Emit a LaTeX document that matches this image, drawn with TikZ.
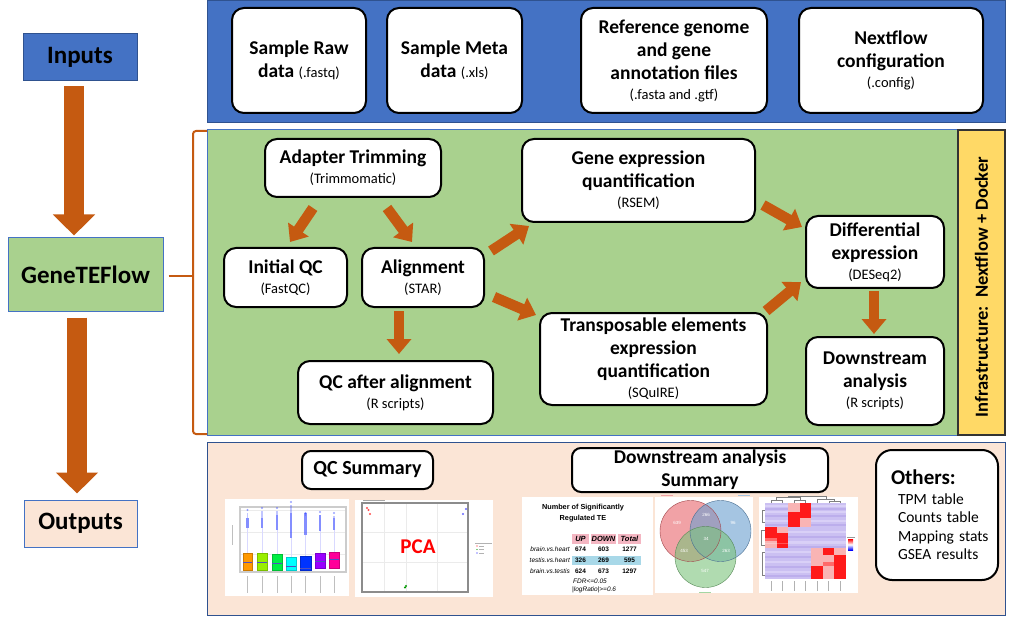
\documentclass[tikz,border=0pt]{standalone}
\usepackage{fontspec}
\setmainfont{Carlito}
\newfontfamily\arialf{Liberation Sans}
\usetikzlibrary{arrows.meta,calc}
\definecolor{blueP}{HTML}{4472C4}
\definecolor{blueD}{HTML}{2F528F}
\definecolor{greenP}{HTML}{A9D18E}
\definecolor{peach}{HTML}{FBE5D6}
\definecolor{yellowP}{HTML}{FFD966}
\definecolor{orangeC}{HTML}{C55A11}
\definecolor{bxA}{HTML}{FF9900}
\definecolor{bxB}{HTML}{99EE00}
\definecolor{bxC}{HTML}{00EE44}
\definecolor{bxD}{HTML}{00FFFF}
\definecolor{bxE}{HTML}{0033FF}
\definecolor{bxF}{HTML}{9900FF}
\definecolor{bxG}{HTML}{FF0099}
\definecolor{medC}{HTML}{5050C0}
\definecolor{outC}{HTML}{3344FF}
\definecolor{pinkT}{HTML}{F4B6C2}
\definecolor{blueT}{HTML}{A8D8E8}
\definecolor{vred}{HTML}{E8646C}
\definecolor{vblue}{HTML}{6A9FD0}
\definecolor{vgreen}{HTML}{7CC47C}
\definecolor{lav}{HTML}{CBC0F2}
\definecolor{lavL}{HTML}{D9D0F7}
\definecolor{lavD}{HTML}{BCAEEC}
\definecolor{hred}{HTML}{FF1A1A}
\definecolor{hpink}{HTML}{F9B4B4}
\definecolor{hmid}{HTML}{FF6A6A}
\newcommand\mttl{\fontsize{19.5}{23}\selectfont\bfseries}
\newcommand\msub{\fontsize{14.5}{17}\selectfont\mdseries}
\begin{document}
\begin{tikzpicture}[x=1pt,y=-1pt,
  box/.style={draw=black, line width=2pt, rounded corners=12pt, fill=white, align=center, inner sep=0pt, font=\mttl},
  lbox/.style={draw=blueD, line width=1pt, inner sep=0pt, font=\fontsize{25}{28}\selectfont\bfseries},
  barrow/.style={draw=orangeC, line width=10.5pt, -{Triangle[width=24pt,length=15pt]}},
  bigarrow/.style={draw=orangeC, line width=20pt, -{Triangle[width=41pt,length=21pt]}},
  tiny/.style={font=\arialf\fontsize{6.5}{7}\selectfont, inner sep=0pt},
  vnum/.style={font=\arialf\fontsize{4.5}{5}\selectfont, text=white, inner sep=0pt},
]
\useasboundingbox (0,0) rectangle (1009,620);
\fill[white] (0,0) rectangle (1009,620);

% ---------- panels
\draw[blueD, fill=blueP, line width=1pt] (207.5,0.5) rectangle (1005,123);
\draw[blueP, fill=greenP, line width=1pt] (207.5,130) rectangle (958,435);
\draw[black!80, fill=yellowP, line width=1.2pt] (958,130) rectangle (1005,435);
\draw[blueD, fill=peach, line width=1pt] (207.5,442) rectangle (1005,615);

% ---------- left column
\node[lbox, fill=blueP, minimum width=114pt, minimum height=47pt] (inp) at (80,57.5) {Inputs};
\node[lbox, fill=greenP, draw=blueP, minimum width=155pt, minimum height=73pt] (gtf) at (85.5,274.5) {GeneTEFlow};
\node[lbox, fill=peach, draw=blueP, minimum width=113pt, minimum height=47pt] (outp) at (80.5,523.5) {Outputs};
\draw[bigarrow] ([shift={(-6,5)}]inp.south) -- ([shift={(-11.5,-2)}]gtf.north);
\draw[bigarrow] ([shift={(-8.5,6)}]gtf.south) -- ([shift={(-3.5,-6)}]outp.north);
\draw[orangeC, line width=2pt, rounded corners=3pt] (207,131) -- (193,131) -- (193,434) -- (207,434);
\draw[orangeC, line width=2pt] ([shift={(5,2)}]gtf.east) -- ++(25,0);

% ---------- inputs panel
\node[box, minimum width=134pt, minimum height=105pt] (raw) at (299,60.5) {Sample Raw\\data {\msub(.fastq)}};
\node[box, minimum width=135pt, minimum height=105pt] (meta) at (454.5,60.5) {Sample Meta\\data {\msub(.xls)}};
\node[box, minimum width=186pt, minimum height=105pt] (ref) at (674,60.5) {Reference genome\\and gene\\annotation files\\[-3pt]{\msub(.fasta and .gtf)}};
\node[box, minimum width=184pt, minimum height=105pt] (nf) at (891,60.5) {Nextflow\\configuration\\[-3pt]{\msub(.config)}};

% ---------- workflow panel
\node[box, minimum width=176pt, minimum height=58pt] (adapt) at (353,168) {Adapter Trimming\\[-3pt]{\msub(Trimmomatic)}};
\node[box, minimum width=123pt, minimum height=59pt] (iqc) at (285.5,277.5) {Initial QC\\[-3pt]{\msub(FastQC)}};
\node[box, minimum width=122pt, minimum height=59pt] (align) at (423,277.5) {Alignment\\[-3pt]{\msub(STAR)}};
\node[box, minimum width=195pt, minimum height=63pt] (qca) at (395.5,392.5) {QC after alignment\\[-3pt]{\msub(R scripts)}};
\node[box, minimum width=233pt, minimum height=83pt] (gene) at (638.5,180.5) {Gene expression\\quantification\\[-3pt]{\msub(RSEM)}};
\node[box, minimum width=227pt, minimum height=92pt] (te) at (653.5,359) {Transposable elements\\expression\\quantification\\[-3pt]{\msub(SQuIRE)}};
\node[box, minimum width=138pt, minimum height=72pt] (diff) at (875,252) {Differential\\expression\\[-3pt]{\msub(DESeq2)}};
\node[box, minimum width=138pt, minimum height=88pt] (down) at (875,381) {Downstream\\analysis\\[-3pt]{\msub(R scripts)}};
\node[rotate=90, font=\fontsize{18.5}{22}\selectfont\bfseries, inner sep=0pt] (infra) at (981.5,287) {Infrastructure:\ \ Nextflow + Docker};

\draw[barrow] ([shift={(-40,10)}]adapt.south) -- ([shift={(4.5,-5)}]iqc.north);
\draw[barrow] ([shift={(34,10)}]adapt.south) -- ([shift={(-11,-5)}]align.north);
\draw[barrow] ([shift={(-24,3)}]align.south) -- ([shift={(3.5,-6)}]qca.north);
\draw[barrow] ([shift={(6,-26.5)}]align.east) -- ([shift={(8,3)}]gene.south west);
\draw[barrow] ([shift={(9,19.5)}]align.east) -- ([shift={(-3,3)}]te.north west);
\draw[barrow] ([shift={(7,24.5)}]gene.east) -- ([shift={(-3,-25)}]diff.west);
\draw[barrow] ([shift={(-2,-1)}]te.north east) -- ([shift={(-4,30)}]diff.west);
\draw[barrow] ([shift={(-1,2)}]diff.south) -- ([shift={(-1,-2)}]down.north);

% ---------- outputs panel
\node[box, rounded corners=9pt, minimum width=131pt, minimum height=38pt, font=\fontsize{20}{23}\selectfont\bfseries] (qcs) at (367.5,470) {QC Summary};
\node[box, rounded corners=9pt, minimum width=256pt, minimum height=44pt, font=\fontsize{19.5}{23}\selectfont\bfseries] (dsum) at (700,470) {Downstream analysis\\Summary};
\node[box, rounded corners=16pt, minimum width=122pt, minimum height=130pt, text width=112pt, align=left, font=\fontsize{15.5}{18.5}\selectfont] (oth) at (937,515)
  {\hspace*{10pt}{\fontsize{21}{21}\selectfont\bfseries Others:}\\[1pt]\hspace*{17pt}TPM table\\\hspace*{17pt}Counts table\\\hspace*{17pt}Mapping stats\\\hspace*{17pt}GSEA results};

% boxplot image
\fill[white] (225,499) rectangle (349,596);
\draw[black!20, line width=1.2pt, fill=white] (240,507) rectangle (346,572);
\foreach \yy in {510,532,554} {\draw[black!8, line width=0.5pt] (241,\yy) -- (345,\yy);}
\foreach \xa/\xb/\yt/\yb/\ym/\cc/\st/\sb/\dt in {
  243/252/553/570/562/bxA/518/528/510,
  257/267/553/570/562/bxB/518/528/508,
  272/282/554/570/563/bxC/515/530/508,
  286/296/557/570/566/bxD/513/538/502,
  300/311/556/570/568/bxE/513/535/513,
  315/325/553/568/561/bxF/515/531/512,
  329/339/552/568/559/bxG/518/530/513} {
  \draw[blue!15, line width=0.6pt] ({(\xa+\xb)/2},\sb) -- ({(\xa+\xb)/2},\yt);
  \draw[outC, opacity=0.6, line width=2.4pt] ({(\xa+\xb)/2},\st) -- ({(\xa+\xb)/2},\sb);
  \draw[outC, opacity=0.3, line width=1.4pt] ({(\xa+\xb)/2},\dt+3) -- ({(\xa+\xb)/2},\st);
  \fill[outC, opacity=0.5] ({(\xa+\xb)/2},\dt) circle (1.1);
  \draw[\cc!80!black, fill=\cc, line width=0.4pt] (\xa,\yt) rectangle (\xb,\yb);
  \draw[medC, line width=1pt] (\xa,\ym) -- (\xb,\ym);
}
\foreach \xx in {247.5,262,277,291,305.5,320,334} {\draw[black!25, line width=0.5pt] (\xx,576) -- (\xx,593);}
\draw[black!25, line width=0.5pt] (232,525) -- (232,545);

% PCA image
\fill[white] (355,500) rectangle (493,597);
\foreach \xx in {384,406,437} {\draw[black!8, line width=0.5pt] (\xx,504) -- (\xx,591);}
\foreach \yy in {532,562} {\draw[black!8, line width=0.5pt] (363,\yy) -- (467,\yy);}
\draw[black!45, line width=1.4pt] (362,503) rectangle (468,592);
\draw[black!35, line width=0.5pt] (363,500.5) -- (385,500.5);
\fill[red!70] (367,508) circle (1.1); \fill[red!70] (368.5,510) circle (1.1); \fill[red!70] (370,514) circle (1.1);
\fill[blue!60] (466,509) circle (1.1); \fill[blue!60] (463,514) circle (1.1);
\fill[green!60!black] (406,586) circle (1.1); \fill[green!60!black] (405,587.5) circle (1.1);
\draw[black!30, line width=0.5pt] (475,543) -- (492,543);
\foreach \yy/\cc in {546/red, 549.5/green!60!black, 553/blue} {\fill[\cc] (477,\yy) circle (0.6); \draw[black!30, line width=0.4pt] (479,\yy) -- (484,\yy);}
\node[font=\fontsize{21}{21}\selectfont\bfseries, text=red, inner sep=0pt] (pca) at (418,547) {PCA};

% table image
\fill[white] (522,497) rectangle (653,595);
\node[font=\arialf\fontsize{7.3}{8}\selectfont\bfseries, inner sep=0pt] (t1) at (583,508) {Number of Significantly};
\node[font=\arialf\fontsize{7.3}{8}\selectfont\bfseries, inner sep=0pt] (t2) at (583,519) {Regulated TE};
\fill[pinkT] (572,534) rectangle (589,544);
\fill[pinkT] (591,534) rectangle (616,544);
\fill[pinkT] (618,534) rectangle (641,544);
\fill[blueT] (572,556) rectangle (641,565);
\node[font=\arialf\fontsize{7.5}{8}\selectfont\bfseries\itshape, inner sep=0pt] (hu) at (580.5,539) {UP};
\node[font=\arialf\fontsize{7.5}{8}\selectfont\bfseries\itshape, inner sep=0pt] (hd) at (603.5,539) {DOWN};
\node[font=\arialf\fontsize{7.5}{8}\selectfont\bfseries\itshape, inner sep=0pt] (ht) at (629.5,539) {Total};
\foreach \yy/\lab/\a/\b/\c in {549/brain.vs.heart/674/603/1277, 560.5/testis.vs.heart/326/269/595, 571/brain.vs.testis/624/673/1297} {
  \node[tiny, anchor=east, font=\arialf\fontsize{6.5}{7}\selectfont\itshape] at (570,\yy) {\lab};
  \node[tiny, font=\arialf\fontsize{6.5}{7}\selectfont\bfseries] at (580.5,\yy) {\a};
  \node[tiny, font=\arialf\fontsize{6.5}{7}\selectfont\bfseries] at (603.5,\yy) {\b};
  \node[tiny, font=\arialf\fontsize{6.5}{7}\selectfont\bfseries] at (629.5,\yy) {\c};
}
\node[tiny, anchor=west, font=\arialf\fontsize{6.5}{7}\selectfont\itshape] (fdr) at (573,581) {FDR<=0.05};
\node[tiny, anchor=west, font=\arialf\fontsize{6.5}{7}\selectfont\itshape] (lr) at (572,590) {|logRatio|>=0.6};

% Venn image
\fill[white] (655,497) rectangle (753,593);
\fill[vred, fill opacity=0.6] (690.5,531) circle (30.5);
\fill[vblue, fill opacity=0.6] (720.5,531) circle (30.5);
\fill[vgreen, fill opacity=0.6] (705.5,557) circle (30.5);
\draw[vred!70!black, line width=0.4pt] (690.5,531) circle (30.5);
\draw[vblue!70!black, line width=0.4pt] (720.5,531) circle (30.5);
\draw[vgreen!70!black, line width=0.4pt] (705.5,557) circle (30.5);
\node[vnum] (v1) at (677,523) {639};
\node[vnum] (v2) at (706,515) {266};
\node[vnum] (v3) at (733,523) {96};
\node[vnum] (v4) at (706,539) {34};
\node[vnum] (v5) at (684,551) {453};
\node[vnum] (v6) at (726,551) {263};
\node[vnum] (v7) at (705,571) {547};
\draw[vred!60, line width=0.6pt] (661,495.5) -- (673,495.5);
\draw[vblue!60, line width=0.6pt] (738,495.5) -- (750,495.5);
\draw[vgreen!70, line width=0.6pt] (699,592) -- (711,592);

% heatmap image
\fill[white] (759,497) rectangle (858,593);
\fill[lav] (765,503) rectangle (846,579);
\foreach \yy/\cc in {505/lavL,508/lavD,511/lavL,515/lavD,520/lavL,524/lavD,531/lavL,536/lavD,541/lavL,546/lavD,551/lavL,556/lavD,561/lavL,566/lavD,571/lavL,575/lavD} {
  \fill[\cc] (765,\yy) rectangle (846,\yy+1.5);
}
% col1
\fill[hred] (765,527) rectangle (776.6,538); \fill[hmid] (765,538) rectangle (776.6,541); \fill[hpink] (765,541) rectangle (776.6,548);
% col2
\fill[hpink] (776.6,527) rectangle (788.1,533); \fill[hred] (776.6,533) rectangle (788.1,548);
% col3
\fill[hpink] (788.1,503) rectangle (799.7,512); \fill[hred] (788.1,512) rectangle (799.7,527);
% col4
\fill[hred] (799.7,503) rectangle (811.3,518); \fill[hpink] (799.7,518) rectangle (811.3,527);
% col5
\fill[hpink] (811.3,548) rectangle (822.9,566); \fill[hred] (811.3,566) rectangle (822.9,579);
% col6
\fill[hred] (822.9,548) rectangle (834.4,555); \fill[hpink] (822.9,555) rectangle (834.4,579);
\fill[hmid] (822.9,562) rectangle (834.4,566);
% col7
\fill[hpink] (834.4,548) rectangle (846,555); \fill[hred] (834.4,555) rectangle (846,579);
\fill[white, opacity=0.25] (765,543) rectangle (846,544);
% dendrograms
\draw[black!50, line width=0.4pt] (770.8,503) -- (770.8,500) -- (782.3,500) -- (782.3,503)
  (793.9,503) -- (793.9,500.5) -- (805.5,500.5) -- (805.5,503)
  (776.5,500) -- (776.5,497.5) -- (799.7,497.5) -- (799.7,500.5)
  (828.7,503) -- (828.7,501) -- (840.2,501) -- (840.2,503)
  (817.1,503) -- (817.1,499.5) -- (834.4,499.5) -- (834.4,501)
  (788,497.5) -- (788,496.5) -- (825.7,496.5) -- (825.7,499.5);
\draw[black!50, line width=0.4pt] (765,510) -- (762,510) -- (762,522) -- (765,522)
  (765,530) -- (761,530) -- (761,545) -- (765,545)
  (765,552) -- (762,552) -- (762,575) -- (765,575);
\shade[top color=red, bottom color=blue, middle color=white] (848,539) rectangle (853,550);
\draw[black!40, line width=0.4pt] (847,537) -- (855,537);
\foreach \xx in {770.8,782.3,793.9,805.5,817.1,828.7,840.2} {\draw[black!30, line width=0.5pt] (\xx,581) -- (\xx,591);}
\end{tikzpicture}
\end{document}
